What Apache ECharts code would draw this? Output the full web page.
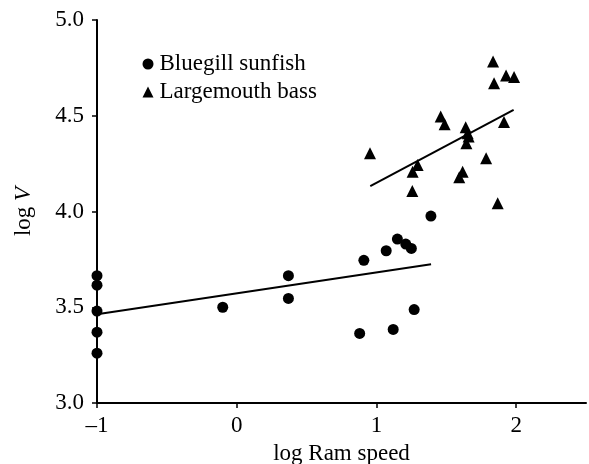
<!DOCTYPE html>
<html>
<head>
<meta charset="utf-8">
<script src="https://cdn.jsdelivr.net/npm/echarts@6/dist/echarts.min.js"></script>
<style>html,body{margin:0;padding:0;background:#fff}#c{width:589px;height:464px}</style>
</head>
<body>
<div id="c"></div>
<script>
// Bluegill sunfish
const bluegillX = [-1, -1, -1, -1, -1, -0.10, 0.37, 0.37, 0.88, 0.91, 1.07, 1.12, 1.15, 1.21, 1.25, 1.27, 1.39];
const bluegillY = [3.665, 3.615, 3.48, 3.37, 3.26, 3.50, 3.665, 3.546, 3.363, 3.745, 3.795, 3.384, 3.856, 3.83, 3.807, 3.488, 3.976];
// Largemouth bass
const bassX = [1.835, 1.928, 1.985, 1.842, 1.460, 1.488, 1.913, 1.639, 1.653, 1.66, 1.644, 0.954, 1.785, 1.295, 1.259, 1.617, 1.593, 1.257, 1.868];
const bassY = [4.783, 4.710, 4.702, 4.670, 4.496, 4.456, 4.467, 4.44, 4.409, 4.391, 4.357, 4.304, 4.278, 4.243, 4.208, 4.208, 4.179, 4.107, 4.043];
// Regression lines (end points)
const bluegillFitX = [-1, 1.391];
const bluegillFitY = [3.464, 3.724];
const bassFitX = [0.956, 1.982];
const bassFitY = [4.133, 4.531];
// Ticks
const xTicks = [-1, 0, 1, 2];
const yTicks = [3.0, 3.5, 4.0, 4.5, 5.0];

const font = "'Liberation Serif', 'Times New Roman', serif";
const fs = 23;
const zip = (a, b) => a.map((v, i) => [v, b[i]]);

const chart = echarts.init(document.getElementById('c'), null, {renderer: 'canvas'});
chart.setOption({
  animation: false,
  backgroundColor: '#fff',
  grid: {left: 97, right: 3, top: 20, bottom: 61, containLabel: false, outerBoundsMode: 'none'},
  legend: {
    orient: 'vertical', left: 137.5, top: 47.5,
    itemWidth: 11, itemHeight: 11, itemGap: 5,
    itemStyle: {color: '#000', opacity: 1},
    textStyle: {fontFamily: font, fontSize: fs, color: '#000', padding: [0, 0, 0, 1]},
    data: [{name: 'Bluegill sunfish', icon: 'circle'}, {name: 'Largemouth bass', icon: 'triangle'}]
  },
  xAxis: {
    type: 'value', min: -1, max: 2.5, interval: 1,
    name: 'log Ram speed', nameLocation: 'middle', nameGap: 39,
    nameTextStyle: {fontFamily: font, fontSize: fs, color: '#000'},
    axisLine: {show: true, onZero: false, lineStyle: {color: '#000', width: 2}},
    axisTick: {show: true, length: 5, lineStyle: {color: '#000', width: 1.5}, customValues: xTicks},
    axisLabel: {fontFamily: font, fontSize: fs, color: '#000', margin: 11,
      customValues: xTicks,
      formatter: v => (v < 0 ? '\u2013' + Math.abs(v) : String(v))},
    splitLine: {show: false}
  },
  yAxis: {
    type: 'value', min: 3, max: 5, interval: 0.5,
    name: '{a|log }{b|V}', nameLocation: 'middle', nameGap: 62,
    nameTextStyle: {fontFamily: font, fontSize: fs, color: '#000',
      rich: {a: {fontFamily: font, fontSize: fs, color: '#000'},
             b: {fontFamily: font, fontSize: fs, color: '#000', fontStyle: 'italic'}}},
    axisLine: {show: true, onZero: false, lineStyle: {color: '#000', width: 2}},
    axisTick: {show: true, length: 5, lineStyle: {color: '#000', width: 1.5}, customValues: yTicks},
    axisLabel: {fontFamily: font, fontSize: fs, color: '#000', margin: 13,
      customValues: yTicks,
      formatter: v => v.toFixed(1)},
    splitLine: {show: false}
  },
  series: [
    {name: 'Bluegill sunfish', type: 'scatter', symbol: 'circle', symbolSize: 11,
     itemStyle: {color: '#000', opacity: 1}, data: zip(bluegillX, bluegillY), z: 3},
    {name: 'Largemouth bass', type: 'scatter', symbol: 'triangle', symbolSize: 12,
     itemStyle: {color: '#000', opacity: 1}, data: zip(bassX, bassY), z: 3},
    {name: 'Bluegill fit', type: 'line', symbol: 'none', lineStyle: {color: '#000', width: 2},
     data: zip(bluegillFitX, bluegillFitY), z: 2},
    {name: 'Bass fit', type: 'line', symbol: 'none', lineStyle: {color: '#000', width: 2},
     data: zip(bassFitX, bassFitY), z: 2}
  ]
});
</script>
</body>
</html>
